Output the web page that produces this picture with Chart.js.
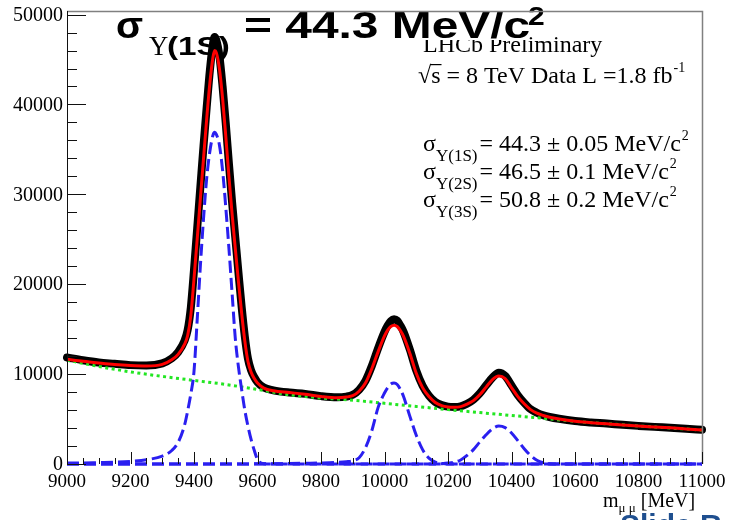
<!DOCTYPE html>
<html lang="en">
<head>
<meta charset="UTF-8">
<title>Upsilon mass fit</title>
<script src="https://cdn.jsdelivr.net/npm/chart.js"></script>
<style>
  html, body { margin: 0; padding: 0; background: #fff; }
  canvas { display: block; }
</style>
</head>
<body>
<canvas id="fit" width="733" height="520"></canvas>
<script>
// dimuon mass grid [MeV] for data and total fit
const mass = [
  9000, 9050, 9100, 9150, 9200, 9250, 9300,
  9330, 9350, 9370, 9380, 9390, 9400, 9410, 9420, 9430, 9440, 9450, 9460, 9465, 9470,
  9480, 9490, 9500, 9510, 9520, 9530, 9540, 9550, 9560, 9570, 9580, 9590, 9600, 9620,
  9650, 9700, 9750, 9800, 9850, 9880, 9900, 9920, 9940, 9960, 9980,
  10000, 10010, 10020, 10030, 10040, 10050, 10060, 10080, 10100, 10120, 10140,
  10160, 10180, 10200, 10220, 10240, 10260, 10280, 10300, 10320, 10340,
  10360, 10380, 10400, 10420, 10440, 10460, 10480, 10500, 10520, 10550,
  10600, 10650, 10700, 10750, 10800, 10850, 10900, 10950, 11000
];
const dataCounts = [
  11850, 11550, 11300, 11150, 11000, 10950, 11200,
  11750, 12450, 13700, 14900, 17400, 21600, 26200, 30800, 35400, 39700, 43800, 46800, 47500, 47200,
  45400, 42000, 37900, 33400, 29100, 25200, 21300, 17500, 14200, 11700, 10400, 9650, 9100, 8500,
  8200, 7950, 7800, 7550, 7420, 7500, 7700, 8250, 9250, 10900, 12900,
  14700, 15400, 15900, 16100, 15950, 15400, 14700, 12700, 10400, 8700, 7600,
  6900, 6550, 6380, 6350, 6420, 6700, 7150, 7850, 8750, 9600,
  10150, 9800, 8750, 7650, 6800, 6100, 5700, 5420, 5230, 5030,
  4780, 4620, 4500, 4360, 4240, 4130, 4030, 3920, 3800
];
const fitTotal = [
  11650, 11420, 11230, 11060, 10950, 10900, 11080,
  11600, 12200, 13300, 14300, 16500, 20600, 25000, 29500, 34000, 38400, 42400, 45300, 46000, 45800,
  44000, 40700, 36500, 32000, 27800, 24000, 20300, 16800, 13700, 11400, 10200, 9500, 9000, 8450,
  8150, 7950, 7750, 7520, 7380, 7450, 7600, 8100, 9000, 10600, 12500,
  14250, 14900, 15300, 15450, 15300, 14850, 14200, 12300, 10100, 8500, 7500,
  6850, 6500, 6350, 6320, 6380, 6650, 7050, 7700, 8550, 9400,
  9780, 9500, 8500, 7500, 6700, 6050, 5650, 5400, 5200, 5000,
  4750, 4600, 4470, 4340, 4220, 4120, 4020, 3900, 3780
];

// signal components
const sig1SMass = [
  9000, 9050, 9100, 9150, 9200, 9250, 9300,
  9330, 9350, 9370, 9380, 9390, 9400, 9410, 9420, 9430, 9440, 9450, 9460, 9465, 9470,
  9480, 9490, 9500, 9510, 9520, 9530, 9540, 9550, 9560, 9570, 9580, 9590, 9600, 9620,
  9650, 11000
];
const sig1S = [
  100, 120, 160, 200, 290, 470, 880,
  1500, 2400, 4300, 5900, 7800, 10300, 16000, 22000, 27300, 31800, 34800, 36600, 36900, 36700,
  35500, 32700, 28600, 24000, 19000, 14000, 10800, 8300, 6000, 4200, 2700, 1500, 500, 30,
  0, 0
];
const sig2SMass = [
  9000, 9650, 9700, 9750, 9800, 9850, 9880, 9900, 9920, 9940, 9960, 9980,
  10000, 10010, 10020, 10030, 10040, 10050, 10060, 10080, 10100, 10120, 10140,
  10160, 10180, 10200, 11000
];
const sig2S = [
  0, 20, 50, 80, 110, 170, 250, 350, 700, 1800, 3700, 6300,
  7900, 8500, 8900, 9000, 8850, 8300, 7500, 5300, 3200, 1600, 650,
  200, 50, 0, 0
];
const sig3SMass = [
  9000, 10160, 10180, 10200, 10220, 10240, 10260, 10280, 10300, 10320, 10340,
  10360, 10380, 10400, 10420, 10440, 10460, 10480, 10500, 10520, 10550, 11000
];
const sig3S = [
  0, 0, 40, 100, 200, 450, 950, 1600, 2450, 3250, 3900,
  4220, 4050, 3450, 2600, 1700, 950, 420, 150, 40, 0, 0
];

// combinatorial background
const bkgMass = [9000, 9100, 9200, 9300, 9400, 9500, 9600, 9700, 9800, 9900, 10000,
                 10100, 10200, 10300, 10400, 10500, 10600, 10700, 10800, 10900, 11000];
const bkg = [11560, 10850, 10250, 9750, 9300, 8850, 8300, 7700, 7350, 7100, 6750,
             6400, 6050, 5720, 5400, 5080, 4750, 4480, 4230, 4000, 3780];

const xTicks = [9000, 9200, 9400, 9600, 9800, 10000, 10200, 10400, 10600, 10800, 11000];
const yTicks = [0, 10000, 20000, 30000, 40000, 50000];

function pts(xs, ys) {
  return xs.map((x, i) => ({ x: x, y: ys[i] }));
}

const SERIF = '"Liberation Serif", "Times New Roman", serif';
const SANS = '"Liberation Sans", Arial, sans-serif';

// draws a run of text pieces left to right, returns end x
function rich(ctx, x, y, parts) {
  parts.forEach(p => {
    ctx.font = p.font;
    ctx.fillText(p.t, x, y + (p.dy || 0));
    x += ctx.measureText(p.t).width;
  });
  return x;
}

function stretched(ctx, text, font, x, y, sx) {
  ctx.save();
  ctx.translate(x, y);
  ctx.scale(sx, 1);
  ctx.font = font;
  ctx.fillText(text, 0, 0);
  ctx.restore();
}

const rootFrame = {
  id: 'rootFrame',
  beforeDatasetsDraw(chart) {
    const ctx = chart.ctx;
    ctx.save();
    ctx.fillStyle = '#000';
    ctx.textBaseline = 'alphabetic';
    ctx.textAlign = 'left';

    // pave text
    ctx.font = '24px ' + SERIF;
    ctx.fillText('LHCb Preliminary', 423, 52);

    let x = rich(ctx, 418, 83, [{ t: '\u221A', font: '24px ' + SERIF }]);
    ctx.font = '24px ' + SERIF;
    const sw = ctx.measureText('s').width;
    ctx.fillRect(x - 1, 64, sw + 2, 1.2);
    x = rich(ctx, x, 83, [{ t: 's = 8 TeV Data L =1.8 fb', font: '24px ' + SERIF }]);
    rich(ctx, x + 1, 72, [{ t: '-1', font: '14px ' + SERIF }]);

    const widths = [
      ['Y(1S)', '= 44.3 \u00B1 0.05 MeV/c', 151],
      ['Y(2S)', '= 46.5 \u00B1 0.1 MeV/c', 179],
      ['Y(3S)', '= 50.8 \u00B1 0.2 MeV/c', 207]
    ];
    widths.forEach(w => {
      let e = rich(ctx, 423, w[2], [
        { t: '\u03C3', font: '24px ' + SERIF },
        { t: w[0], font: '17px ' + SERIF, dy: 10 }
      ]);
      e = rich(ctx, e + 2, w[2], [{ t: w[1], font: '24px ' + SERIF }]);
      rich(ctx, e + 1, w[2] - 11, [{ t: '2', font: '14px ' + SERIF }]);
    });

    // headline sits on a white patch over the pave
    ctx.fillStyle = '#fff';
    ctx.fillRect(384, 12, 142, 28);
    ctx.fillStyle = '#000';
    stretched(ctx, '\u03C3', 'bold 36px ' + SANS, 116, 38, 1.1);
    stretched(ctx, '\u03A5', '28px ' + SERIF, 149, 55, 0.95);
    stretched(ctx, '(1S)', 'bold 25px ' + SANS, 167, 55, 1.33);
    stretched(ctx, '= 44.3 MeV/c', 'bold 36px ' + SANS, 244, 38, 1.33);
    stretched(ctx, '2', 'bold 25px ' + SANS, 528, 25, 1.2);
    ctx.restore();
  },
  afterDatasetsDraw(chart) {
    const ctx = chart.ctx;
    const xs = chart.scales.x, ys = chart.scales.y;
    const { left, right, top, bottom } = chart.chartArea;
    ctx.save();

    // frame
    ctx.strokeStyle = '#808080';
    ctx.lineWidth = 1.5;
    ctx.beginPath();
    ctx.moveTo(left, top + 0.5);
    ctx.lineTo(right + 0.5, top + 0.5);
    ctx.lineTo(right + 0.5, bottom);
    ctx.stroke();

    ctx.strokeStyle = '#111';
    ctx.lineWidth = 1;
    ctx.beginPath();
    ctx.moveTo(left + 0.5, top);
    ctx.lineTo(left + 0.5, bottom + 0.5);
    ctx.stroke();

    // inward ticks
    ctx.beginPath();
    for (let m = xTicks[0]; m <= xTicks[xTicks.length - 1]; m += 50) {
      const px = Math.round(xs.getPixelForValue(m)) + 0.5;
      const len = (m % 200 === 0) ? 12 : 6;
      ctx.moveTo(px, bottom);
      ctx.lineTo(px, bottom - len);
    }
    for (let v = yTicks[0]; v <= yTicks[yTicks.length - 1]; v += 2000) {
      const py = Math.round(ys.getPixelForValue(v)) + 0.5;
      const len = (v % 10000 === 0) ? 19 : 10;
      ctx.moveTo(left, py);
      ctx.lineTo(left + len, py);
    }
    ctx.stroke();

    // tick labels
    ctx.fillStyle = '#000';
    ctx.font = '19px ' + SERIF;
    ctx.textAlign = 'center';
    ctx.textBaseline = 'alphabetic';
    xTicks.forEach(m => ctx.fillText(String(m), xs.getPixelForValue(m), bottom + 23));
    ctx.font = '20px ' + SERIF;
    ctx.textAlign = 'right';
    ctx.textBaseline = 'middle';
    yTicks.forEach(v => ctx.fillText(String(v), left - 4, ys.getPixelForValue(v) + 1));

    // axis title
    ctx.textAlign = 'left';
    ctx.textBaseline = 'alphabetic';
    rich(ctx, 603, 507, [
      { t: 'm', font: '20px ' + SERIF },
      { t: '\u03BC \u03BC', font: '13px ' + SERIF, dy: 5 },
      { t: ' [MeV]', font: '20px ' + SERIF }
    ]);

    // slide footer peeking in at the corner
    ctx.fillStyle = '#1f4f8f';
    ctx.font = 'bold 30px ' + SANS;
    ctx.fillText('Slide R', 620, 535);
    ctx.restore();
  }
};

const common = { pointRadius: 0, fill: false, cubicInterpolationMode: 'monotone' };
const blueStyle = { borderColor: '#2a1ff0', borderWidth: 3, borderDash: [12, 5], order: 2,
                    clip: { left: 0, right: 0, top: 0, bottom: 3 } };

new Chart(document.getElementById('fit'), {
  type: 'line',
  data: {
    datasets: [
      Object.assign({ label: 'total fit', data: pts(mass, fitTotal), borderColor: '#ff0000', borderWidth: 3, order: 1 }, common),
      Object.assign({ label: 'Y(1S)', data: pts(sig1SMass, sig1S) }, blueStyle, common),
      Object.assign({ label: 'Y(2S)', data: pts(sig2SMass, sig2S) }, blueStyle, common),
      Object.assign({ label: 'Y(3S)', data: pts(sig3SMass, sig3S) }, blueStyle, common),
      Object.assign({ label: 'background', data: pts(bkgMass, bkg), borderColor: '#22e622', borderWidth: 3, borderDash: [3, 3.5], order: 3 }, common),
      Object.assign({ label: 'data', data: pts(mass, dataCounts), borderColor: '#000', borderWidth: 8, borderCapStyle: 'round', borderJoinStyle: 'round', order: 4, clip: 4 }, common)
    ]
  },
  options: {
    responsive: false,
    animation: false,
    layout: { padding: { left: 67, right: 31, top: 11, bottom: 56 } },
    plugins: { legend: { display: false }, tooltip: { enabled: false } },
    scales: {
      x: { type: 'linear', min: 9000, max: 11000, display: false },
      y: { type: 'linear', min: 0, max: 50400, display: false }
    }
  },
  plugins: [rootFrame]
});
</script>
</body>
</html>
